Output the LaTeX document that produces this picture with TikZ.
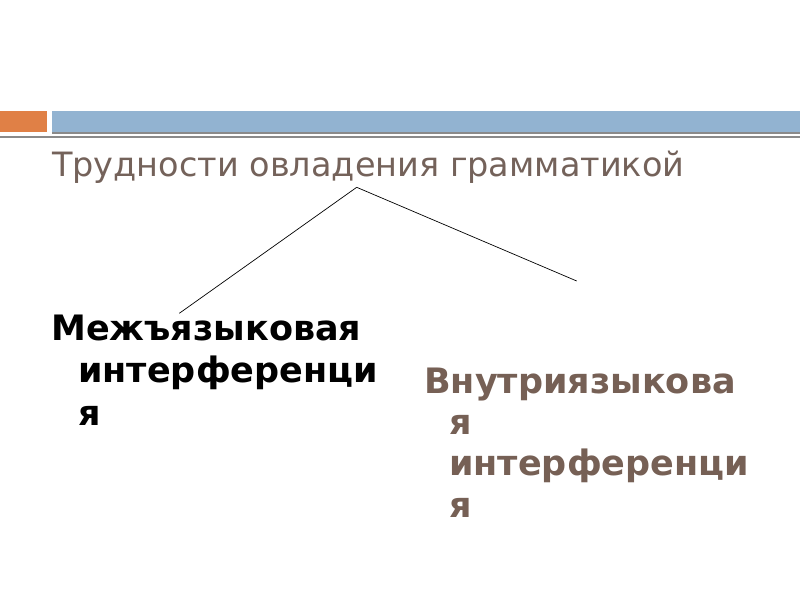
\documentclass[tikz,border=0pt]{standalone}
\usepackage{fontspec}
\setmainfont{DejaVu Sans}
\definecolor{barorange}{RGB}{224,128,70}
\definecolor{barblue}{RGB}{146,179,209}
\definecolor{bargray}{RGB}{138,138,138}
\definecolor{titlebrown}{RGB}{116,98,90}
\definecolor{textbrown}{RGB}{118,96,85}
\tikzset{
  bartitle/.style={anchor=base west, inner sep=0pt, text=titlebrown, font=\fontsize{33.5}{40}\selectfont},
  branch/.style={anchor=base west, inner sep=0pt, align=left},
  link/.style={draw=black, line width=0.7pt}
}
\begin{document}
\begin{tikzpicture}[x=1pt,y=-1pt]
\useasboundingbox[fill=white] (0,0) rectangle (800,600);
% header bars
\fill[barorange] (0,111) rectangle (46.5,131.5);
\fill[barblue] (52,111) rectangle (800,131.5);
\fill[bargray] (52,131.5) rectangle (800,134);
\fill[bargray] (0,136) rectangle (800,138.3);
% title
\node[bartitle] (title) at (52,176) {Трудности овладения грамматикой};
% branches (base anchor = last line's baseline)
\node[branch, text=black, font=\fontsize{35}{42.5}\selectfont\bfseries] (inter) at (51,425)
  {Межъязыковая\\\hspace*{27pt}интерференци\\\hspace*{27pt}я};
\node[branch, text=textbrown, font=\fontsize{35}{41.3}\selectfont\bfseries] (intra) at (424,517)
  {Внутриязыкова\\\hspace*{25pt}я\\\hspace*{25pt}интерференци\\\hspace*{25pt}я};
% connectors
\coordinate (apex) at (356.7,187.3);
\coordinate (lend) at (179.3,313.3);
\coordinate (rend) at (576.7,281);
\draw[link] (apex) -- (lend);
\draw[link] (apex) -- (rend);
\end{tikzpicture}
\end{document}
